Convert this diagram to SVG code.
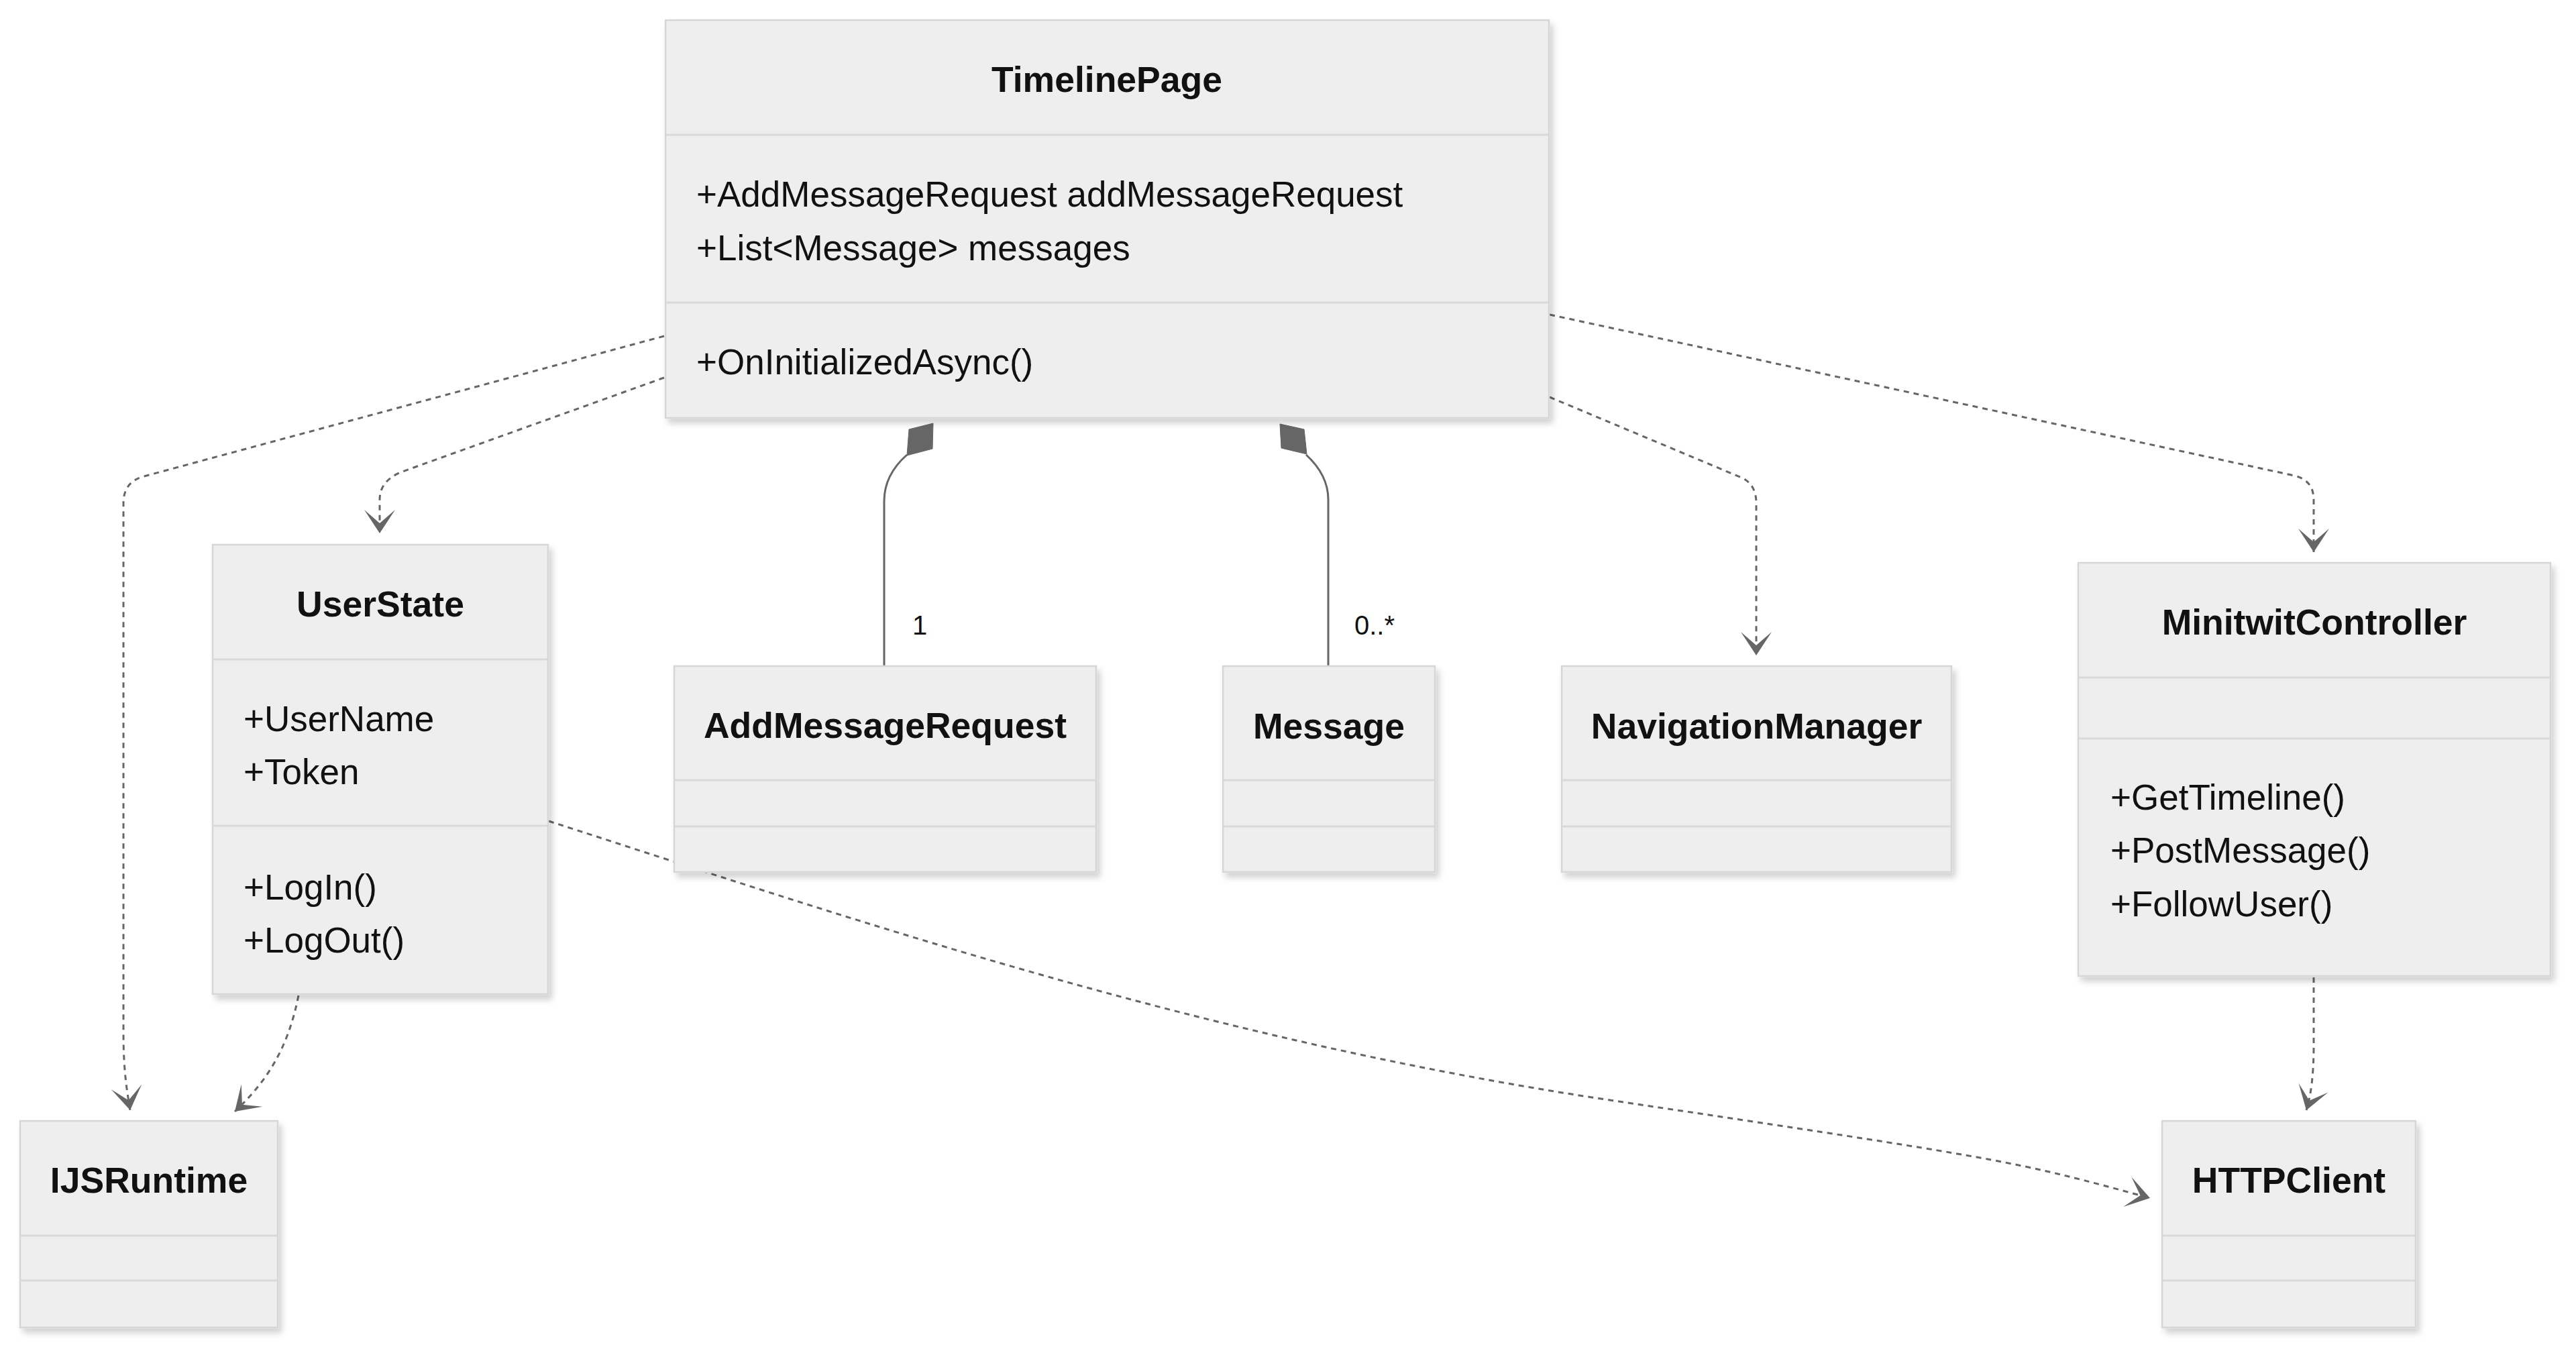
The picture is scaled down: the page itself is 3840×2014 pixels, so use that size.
<svg xmlns="http://www.w3.org/2000/svg" width="3840" height="2014" viewBox="0 0 3840 2014">
<defs>
<style>
.box{fill:#eeeeee;stroke:#d6d6d6;stroke-width:2.5;filter:url(#sh)}
.div{stroke:#d9d9d9;stroke-width:3}
.title{font-family:"Liberation Sans",Arial,sans-serif;font-size:53.5px;font-weight:bold;fill:#111;text-anchor:middle}
.mem{font-family:"Liberation Sans",Arial,sans-serif;font-size:53px;fill:#111}
.lbl{font-family:"Liberation Sans",Arial,sans-serif;font-size:40px;fill:#111}
.dep{fill:none;stroke:#666;stroke-width:3;stroke-dasharray:8 7;marker-end:url(#dep)}
.comp{fill:none;stroke:#666;stroke-width:3}
.dia{fill:#666;stroke:#666;stroke-width:1}
</style>
<filter id="sh" x="-10%" y="-10%" width="130%" height="130%">
<feDropShadow dx="5" dy="7" stdDeviation="5" flood-color="#000" flood-opacity="0.18"/>
</filter>
<marker id="dep" markerUnits="userSpaceOnUse" viewBox="-40 -25 50 50" markerWidth="50" markerHeight="50" refX="0" refY="0" orient="auto">
<path d="M0,0 L-35,23 L-15,0 L-35,-23 Z" fill="#666"/>
</marker>
</defs>
<rect width="3840" height="2014" fill="#ffffff"/>

<g id="connectors">
<path class="dep" d="M990,501 L215,710 Q184,718 184,750 L184,1540 C184,1600 190,1630 194,1655"/>
<path class="dep" d="M990,563 L600,703 Q566,716 566,745 L566,795"/>
<path class="dep" d="M2310,592 L2596,712 Q2618,722 2618,750 L2618,977"/>
<path class="dep" d="M2310,469 L3420,709 Q3449,716 3449,745 L3449,823"/>
<path class="dep" d="M445,1484 C430,1560 400,1610 350,1657"/>
<path class="dep" d="M818,1224 C1300,1380 1800,1550 2400,1640 S3000,1730 3205,1786"/>
<path class="dep" d="M3449,1457 L3449,1560 Q3449,1620 3438,1655"/>
<path class="comp" d="M1318,992 L1318,747 Q1318,708 1352,678"/>
<polygon class="dia" points="1391,631 1355,640 1352,679 1390,669"/>
<path class="comp" d="M1980,992 L1980,745 Q1980,708 1947,678"/>
<polygon class="dia" points="1908,632 1944,640 1948,677 1910,668"/>
<text class="lbl" x="1360" y="946">1</text>
<text class="lbl" x="2019" y="946">0..*</text>
</g>

<g id="TimelinePage">
<rect class="box" x="992" y="30" width="1317" height="593"/>
<line class="div" x1="993" y1="201" x2="2308" y2="201"/>
<line class="div" x1="993" y1="451" x2="2308" y2="451"/>
<text class="title" x="1650" y="137">TimelinePage</text>
<text class="mem" x="1038" y="308">+AddMessageRequest addMessageRequest</text>
<text class="mem" x="1038" y="388">+List&lt;Message&gt; messages</text>
<text class="mem" x="1038" y="558">+OnInitializedAsync()</text>
</g>

<g id="UserState">
<rect class="box" x="317" y="812" width="500" height="670"/>
<line class="div" x1="318" y1="983" x2="816" y2="983"/>
<line class="div" x1="318" y1="1231" x2="816" y2="1231"/>
<text class="title" x="567" y="919">UserState</text>
<text class="mem" x="363" y="1090">+UserName</text>
<text class="mem" x="363" y="1169">+Token</text>
<text class="mem" x="363" y="1341">+LogIn()</text>
<text class="mem" x="363" y="1420">+LogOut()</text>
</g>

<g id="AddMessageRequest">
<rect class="box" x="1005" y="993" width="629" height="307"/>
<line class="div" x1="1006" y1="1163" x2="1633" y2="1163"/>
<line class="div" x1="1006" y1="1232" x2="1633" y2="1232"/>
<text class="title" x="1319.5" y="1100">AddMessageRequest</text>
</g>

<g id="Message">
<rect class="box" x="1823" y="993" width="316" height="307"/>
<line class="div" x1="1824" y1="1163" x2="2138" y2="1163"/>
<line class="div" x1="1824" y1="1232" x2="2138" y2="1232"/>
<text class="title" x="1981" y="1101">Message</text>
</g>

<g id="NavigationManager">
<rect class="box" x="2328" y="993" width="581" height="307"/>
<line class="div" x1="2329" y1="1163" x2="2908" y2="1163"/>
<line class="div" x1="2329" y1="1232" x2="2908" y2="1232"/>
<text class="title" x="2618.5" y="1101">NavigationManager</text>
</g>

<g id="MinitwitController">
<rect class="box" x="3098" y="839" width="704" height="616"/>
<line class="div" x1="3099" y1="1010" x2="3801" y2="1010"/>
<line class="div" x1="3099" y1="1101" x2="3801" y2="1101"/>
<text class="title" x="3450" y="946">MinitwitController</text>
<text class="mem" x="3146" y="1207">+GetTimeline()</text>
<text class="mem" x="3146" y="1286">+PostMessage()</text>
<text class="mem" x="3146" y="1366">+FollowUser()</text>
</g>

<g id="IJSRuntime">
<rect class="box" x="30" y="1671" width="384" height="308"/>
<line class="div" x1="31" y1="1842" x2="413" y2="1842"/>
<line class="div" x1="31" y1="1909" x2="413" y2="1909"/>
<text class="title" x="222" y="1778">IJSRuntime</text>
</g>

<g id="HTTPClient">
<rect class="box" x="3223" y="1671" width="378" height="308"/>
<line class="div" x1="3224" y1="1842" x2="3600" y2="1842"/>
<line class="div" x1="3224" y1="1909" x2="3600" y2="1909"/>
<text class="title" x="3412" y="1778">HTTPClient</text>
</g>
</svg>
